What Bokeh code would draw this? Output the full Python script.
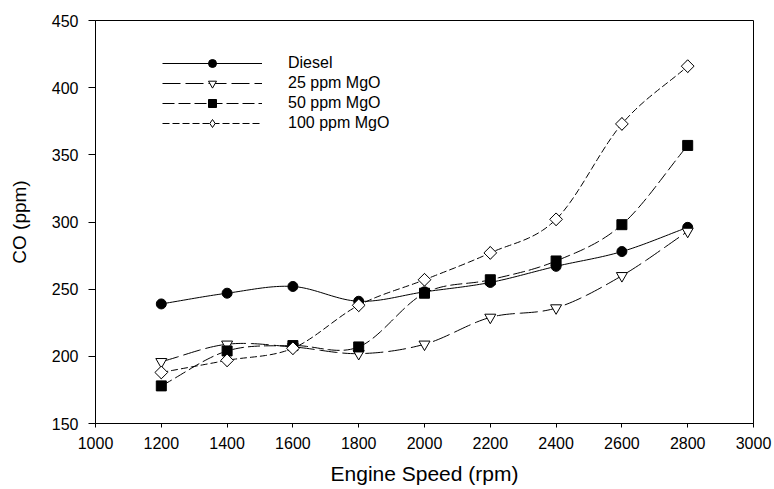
import numpy as np
from bokeh.plotting import figure
from bokeh.models import Legend, LegendItem, FixedTicker, Range1d
from bokeh.embed import file_html
from bokeh.resources import INLINE

speed = [1200, 1400, 1600, 1800, 2000, 2200, 2400, 2600, 2800]
diesel = [239, 247, 252, 241, 248, 255, 267, 278, 296]
mgo25 = [196, 209, 207, 202, 209, 229, 236, 260, 293]
mgo50 = [178, 204, 208, 207, 247, 257, 271, 298, 357]
mgo100 = [188, 197, 206, 238, 257, 277, 302, 373, 416]
series_names = ["Diesel", "25 ppm MgO", "50 ppm MgO", "100 ppm MgO"]
x_ticks = [1000, 1200, 1400, 1600, 1800, 2000, 2200, 2400, 2600, 2800, 3000]
y_ticks = [150, 200, 250, 300, 350, 400, 450]

FONT = "Liberation Sans"


def smooth(xs, ys, n=24):
    # Catmull-Rom smoothing through the data points (drawing only)
    xs = np.asarray(xs, float)
    ys = np.asarray(ys, float)
    px = np.concatenate([[2 * xs[0] - xs[1]], xs, [2 * xs[-1] - xs[-2]]])
    py = np.concatenate([[2 * ys[0] - ys[1]], ys, [2 * ys[-1] - ys[-2]]])
    ox, oy = [], []
    for i in range(1, len(px) - 2):
        t = np.linspace(0, 1, n, endpoint=False)
        for arr, out in ((px, ox), (py, oy)):
            p0, p1, p2, p3 = arr[i - 1], arr[i], arr[i + 1], arr[i + 2]
            out.extend(0.5 * ((2 * p1) + (-p0 + p2) * t
                              + (2 * p0 - 5 * p1 + 4 * p2 - p3) * t ** 2
                              + (-p0 + 3 * p1 - 3 * p2 + p3) * t ** 3))
    ox.append(xs[-1])
    oy.append(ys[-1])
    return ox, oy


p = figure(width=774, height=489, output_backend="svg", toolbar_location=None,
           x_range=Range1d(1000, 3000), y_range=Range1d(150, 450),
           min_border_left=95, min_border_right=21, min_border_top=20,
           min_border_bottom=66)
p.xgrid.visible = False
p.ygrid.visible = False
p.outline_line_color = "black"
p.outline_line_width = 1
p.background_fill_color = "white"
p.border_fill_color = "white"

for ax in (p.xaxis[0], p.yaxis[0]):
    ax.major_tick_in = 0
    ax.minor_tick_line_color = None
    ax.axis_line_color = "black"
    ax.major_tick_line_color = "black"
    ax.major_label_text_font = FONT
    ax.major_label_text_font_size = "16px"
    ax.major_label_text_color = "black"
    ax.axis_label_text_font = FONT
    ax.axis_label_text_font_style = "normal"
    ax.axis_label_text_color = "black"

p.xaxis.major_tick_out = 4
p.yaxis.major_tick_out = 7
p.xaxis.ticker = FixedTicker(ticks=x_ticks)
p.yaxis.ticker = FixedTicker(ticks=y_ticks)
p.xaxis.axis_label = "Engine Speed (rpm)"
p.yaxis.axis_label = "CO (ppm)"
p.xaxis.axis_label_text_font_size = "21px"
p.yaxis.axis_label_text_font_size = "19px"
p.xaxis.major_label_standoff = 9
p.yaxis.major_label_standoff = 10
p.xaxis.axis_label_standoff = 10
p.yaxis.axis_label_standoff = 19

styles = [
    (diesel, "solid", "circle", "black", 10, 0.0),
    (mgo25, "18 5", "inverted_triangle", "white", 11, 0.0),
    (mgo50, "12 4", "square", "black", 10, 0.0),
    (mgo100, "7 3", "square", "white", 9, np.pi / 4),
]

items = []
for name, (vals, dash, marker, fill, size, ang) in zip(series_names, styles):
    sx, sy = smooth(speed, vals)
    ln = p.line(sx, sy, line_color="black", line_width=1, line_dash=dash)
    if ang:
        # diamond shape used for the legend key; sits hidden inside the rotated square
        key = p.scatter(speed, vals, marker="diamond", size=12.5,
                        fill_color=fill, line_color="black", line_width=1)
    sc = p.scatter(speed, vals, marker=marker, size=size, angle=ang,
                   fill_color=fill, line_color="black", line_width=1)
    items.append(LegendItem(label=name, renderers=[ln, key if ang else sc]))

legend = Legend(items=items, location=(67, 290), glyph_width=100,
                glyph_height=20, label_standoff=26, spacing=0, padding=0,
                margin=0, border_line_color=None, background_fill_alpha=0,
                label_text_font=FONT, label_text_font_size="16px",
                label_text_color="black")
p.add_layout(legend, "center")

open("out.html", "w").write(file_html(p, INLINE))
